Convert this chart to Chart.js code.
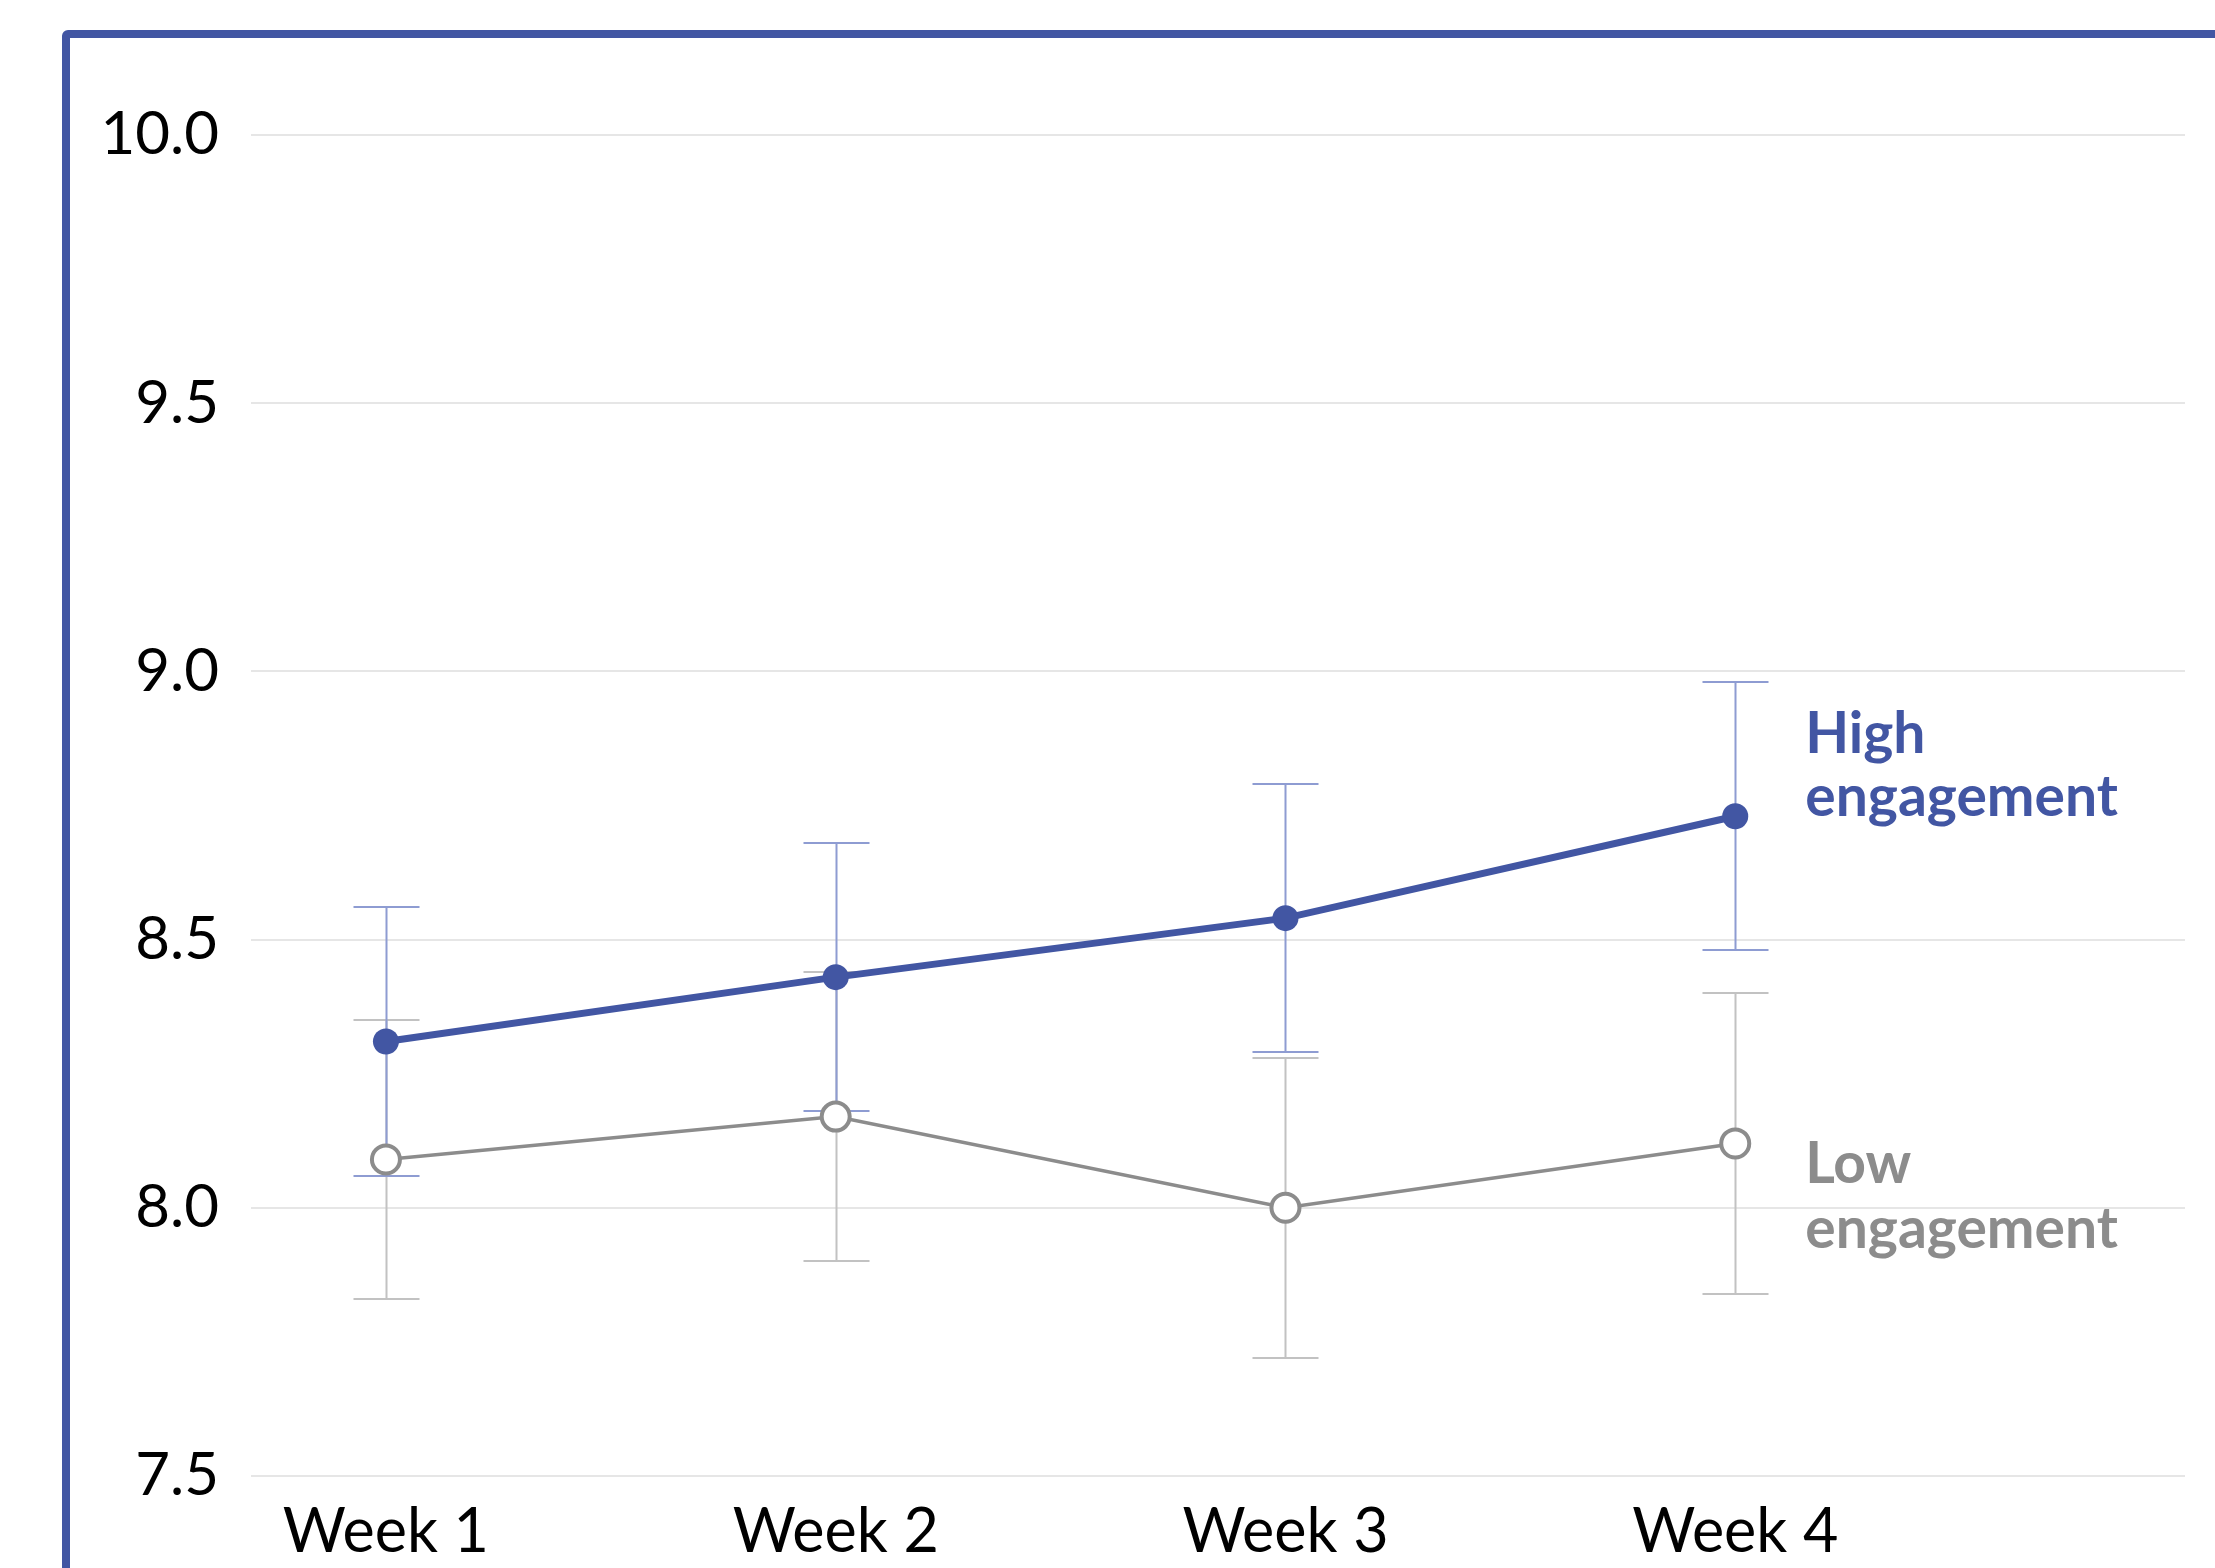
<!DOCTYPE html>
<html>
<head>
<meta charset="utf-8">
<title>Engagement by week</title>
<script src="https://cdn.jsdelivr.net/npm/chart.js@4.4.1/dist/chart.umd.min.js"></script>
<style>
  html, body { margin: 0; padding: 0; background: #fff; overflow: hidden; }
  #wrap { position: relative; width: 2215px; height: 1568px; overflow: hidden; }
  #frame {
    position: absolute; left: 62px; top: 30px;
    width: 2300px; height: 1700px;
    border: 8px solid #4256A3; border-radius: 6px; box-sizing: border-box;
  }
  #c { position: absolute; left: 0; top: 0; }
</style>
</head>
<body>
<div id="wrap">
  <div id="frame"></div>
  <canvas id="c" width="2215" height="1568"></canvas>
</div>
<script>
// Weekly means with ± error for each engagement group
const weeks = ['Week 1', 'Week 2', 'Week 3', 'Week 4'];
const highMeans = [8.31, 8.43, 8.54, 8.73];
const highErr = [0.25, 0.25, 0.25, 0.25];
const lowMeans = [8.09, 8.17, 8.00, 8.12];
const lowErr = [0.26, 0.27, 0.28, 0.28];
const yTicks = [7.5, 8.0, 8.5, 9.0, 9.5, 10.0];
const seriesNames = [['High', 'engagement'], ['Low', 'engagement']];

const BLUE = '#4256A3';
const GREY = '#8C8C8C';

const toPoints = arr => arr.map((v, i) => ({ x: i + 1, y: v }));

// Error bars go under the lines; group names are written beside the last week
const errorBars = {
  id: 'errorBars',
  beforeDatasetsDraw(chart) {
    const { ctx, scales: { x, y } } = chart;
    const groups = [
      { means: lowMeans, errs: lowErr, color: '#C2C2C2' },
      { means: highMeans, errs: highErr, color: '#8E9CD2' }
    ];
    const cap = 33;
    ctx.save();
    ctx.lineWidth = 2;
    groups.forEach(g => {
      ctx.strokeStyle = g.color;
      g.means.forEach((m, i) => {
        const px = Math.round(x.getPixelForValue(i + 1)) + 0.5;
        const top = Math.round(y.getPixelForValue(m + g.errs[i]));
        const bot = Math.round(y.getPixelForValue(m - g.errs[i]));
        ctx.beginPath();
        ctx.moveTo(px, top); ctx.lineTo(px, bot);
        ctx.moveTo(px - cap, top); ctx.lineTo(px + cap, top);
        ctx.moveTo(px - cap, bot); ctx.lineTo(px + cap, bot);
        ctx.stroke();
      });
    });
    ctx.restore();
  },
  afterDatasetsDraw(chart) {
    const { ctx, scales: { x, y } } = chart;
    const lx = x.getPixelForValue(weeks.length) + 70;
    ctx.save();
    ctx.font = 'bold 57px Lato';
    ctx.textAlign = 'left';
    ctx.textBaseline = 'alphabetic';
    const blocks = [
      { lines: seriesNames[0], color: BLUE, y0: y.getPixelForValue(8.848), step: 63 },
      { lines: seriesNames[1], color: GREY, y0: y.getPixelForValue(8.046), step: 65 }
    ];
    blocks.forEach(b => {
      ctx.fillStyle = b.color;
      b.lines.forEach((t, k) => ctx.fillText(t, lx, b.y0 + k * b.step));
    });
    ctx.restore();
  }
};

new Chart(document.getElementById('c'), {
  type: 'line',
  data: {
    datasets: [
      {
        label: 'High engagement',
        data: toPoints(highMeans),
        borderColor: BLUE,
        backgroundColor: BLUE,
        borderWidth: 7,
        pointRadius: 13,
        pointBackgroundColor: BLUE,
        pointBorderWidth: 0,
        tension: 0,
        order: 1
      },
      {
        label: 'Low engagement',
        data: toPoints(lowMeans),
        borderColor: GREY,
        backgroundColor: '#fff',
        borderWidth: 3.5,
        pointRadius: 14,
        pointBackgroundColor: '#fff',
        pointBorderColor: GREY,
        pointBorderWidth: 4,
        tension: 0,
        order: 2
      }
    ]
  },
  options: {
    responsive: false,
    animation: false,
    devicePixelRatio: 1,
    events: [],
    layout: { padding: { top: 135, right: 30, left: 0, bottom: 0 } },
    plugins: { legend: { display: false }, tooltip: { enabled: false } },
    scales: {
      x: {
        type: 'linear',
        min: 0.7,
        max: 5,
        grid: { display: false },
        border: { display: false },
        afterBuildTicks: s => { s.ticks = weeks.map((w, i) => ({ value: i + 1 })); },
        afterFit: s => { s.height = 92; },
        ticks: {
          callback: v => weeks[v - 1] || '',
          font: { family: 'Lato', size: 61 },
          color: '#000',
          padding: 12,
          maxRotation: 0,
          autoSkip: false
        }
      },
      y: {
        min: 7.5,
        max: 10,
        afterBuildTicks: s => { s.ticks = yTicks.map(v => ({ value: v })); },
        afterFit: s => { s.width = 251; },
        grid: { color: '#E6E6E6', lineWidth: 2, drawTicks: false },
        border: { display: false },
        ticks: {
          callback: v => v.toFixed(1),
          font: { family: 'Lato', size: 60 },
          color: '#000',
          padding: 32
        }
      }
    }
  },
  plugins: [errorBars]
});
</script>
</body>
</html>
